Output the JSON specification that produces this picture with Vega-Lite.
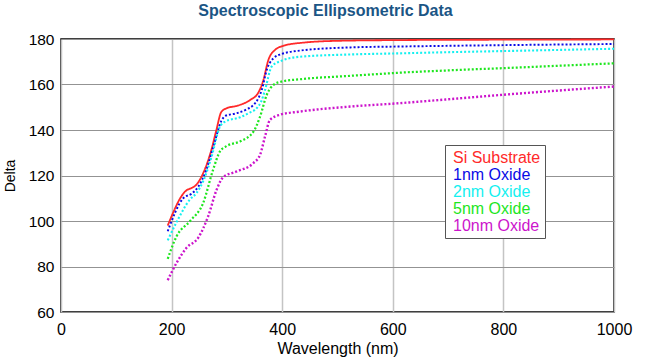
{
  "$schema": "https://vega.github.io/schema/vega-lite/v6.json",
  "width": 553,
  "height": 273,
  "autosize": "none",
  "padding": {"left": 61, "top": 39, "right": 36, "bottom": 49},
  "background": "white",
  "title": {
    "text": "Spectroscopic Ellipsometric Data",
    "font": "Liberation Sans",
    "fontSize": 16,
    "fontWeight": "bold",
    "color": "#1b5585",
    "anchor": "middle",
    "dx": -12,
    "offset": 13
  },
  "config": {
    "view": {"stroke": "black", "strokeWidth": 1.5},
    "font": "Liberation Sans",
    "axis": {
      "labelFont": "Liberation Sans",
      "titleFont": "Liberation Sans",
      "labelColor": "#000000",
      "titleColor": "#000000",
      "titleFontWeight": "normal",
      "domain": false,
      "ticks": false
    }
  },
  "data": {
    "values": [
      {"series": "Si Substrate", "wl": 193, "delta": 98},
      {"series": "Si Substrate", "wl": 227, "delta": 113.5},
      {"series": "Si Substrate", "wl": 236, "delta": 114.5},
      {"series": "Si Substrate", "wl": 245, "delta": 116},
      {"series": "Si Substrate", "wl": 257, "delta": 121},
      {"series": "Si Substrate", "wl": 272, "delta": 131.3},
      {"series": "Si Substrate", "wl": 281, "delta": 140},
      {"series": "Si Substrate", "wl": 290, "delta": 148},
      {"series": "Si Substrate", "wl": 300, "delta": 149.6},
      {"series": "Si Substrate", "wl": 318, "delta": 150.6},
      {"series": "Si Substrate", "wl": 342, "delta": 153.2},
      {"series": "Si Substrate", "wl": 357, "delta": 156.5},
      {"series": "Si Substrate", "wl": 366, "delta": 162},
      {"series": "Si Substrate", "wl": 375, "delta": 170.8},
      {"series": "Si Substrate", "wl": 387, "delta": 175.2},
      {"series": "Si Substrate", "wl": 402, "delta": 177},
      {"series": "Si Substrate", "wl": 438, "delta": 178.4},
      {"series": "Si Substrate", "wl": 500, "delta": 179.2},
      {"series": "Si Substrate", "wl": 600, "delta": 179.5},
      {"series": "Si Substrate", "wl": 800, "delta": 179.7},
      {"series": "Si Substrate", "wl": 1000, "delta": 179.8},

      {"series": "1nm Oxide", "wl": 193, "delta": 95.5},
      {"series": "1nm Oxide", "wl": 221, "delta": 110},
      {"series": "1nm Oxide", "wl": 236, "delta": 112},
      {"series": "1nm Oxide", "wl": 248, "delta": 115},
      {"series": "1nm Oxide", "wl": 262, "delta": 122},
      {"series": "1nm Oxide", "wl": 277, "delta": 134},
      {"series": "1nm Oxide", "wl": 290, "delta": 144},
      {"series": "1nm Oxide", "wl": 297, "delta": 146.2},
      {"series": "1nm Oxide", "wl": 318, "delta": 147.4},
      {"series": "1nm Oxide", "wl": 335, "delta": 149},
      {"series": "1nm Oxide", "wl": 348, "delta": 151},
      {"series": "1nm Oxide", "wl": 357, "delta": 154},
      {"series": "1nm Oxide", "wl": 363, "delta": 157.6},
      {"series": "1nm Oxide", "wl": 372, "delta": 166.4},
      {"series": "1nm Oxide", "wl": 384, "delta": 171.5},
      {"series": "1nm Oxide", "wl": 399, "delta": 173.4},
      {"series": "1nm Oxide", "wl": 432, "delta": 174.9},
      {"series": "1nm Oxide", "wl": 523, "delta": 176.3},
      {"series": "1nm Oxide", "wl": 613, "delta": 176.7},
      {"series": "1nm Oxide", "wl": 700, "delta": 177},
      {"series": "1nm Oxide", "wl": 800, "delta": 177.3},
      {"series": "1nm Oxide", "wl": 1000, "delta": 177.8},

      {"series": "2nm Oxide", "wl": 193, "delta": 91.5},
      {"series": "2nm Oxide", "wl": 210, "delta": 100},
      {"series": "2nm Oxide", "wl": 233, "delta": 109.4},
      {"series": "2nm Oxide", "wl": 245, "delta": 112.3},
      {"series": "2nm Oxide", "wl": 258, "delta": 118},
      {"series": "2nm Oxide", "wl": 272, "delta": 128},
      {"series": "2nm Oxide", "wl": 287.5, "delta": 141.5},
      {"series": "2nm Oxide", "wl": 297, "delta": 143.7},
      {"series": "2nm Oxide", "wl": 324, "delta": 145.6},
      {"series": "2nm Oxide", "wl": 340, "delta": 147.5},
      {"series": "2nm Oxide", "wl": 354, "delta": 149.6},
      {"series": "2nm Oxide", "wl": 362, "delta": 152.5},
      {"series": "2nm Oxide", "wl": 369, "delta": 157.6},
      {"series": "2nm Oxide", "wl": 381, "delta": 167.9},
      {"series": "2nm Oxide", "wl": 399, "delta": 170.5},
      {"series": "2nm Oxide", "wl": 432, "delta": 172.2},
      {"series": "2nm Oxide", "wl": 523, "delta": 173.2},
      {"series": "2nm Oxide", "wl": 613, "delta": 173.7},
      {"series": "2nm Oxide", "wl": 700, "delta": 174.2},
      {"series": "2nm Oxide", "wl": 800, "delta": 174.7},
      {"series": "2nm Oxide", "wl": 1000, "delta": 175.7},

      {"series": "5nm Oxide", "wl": 193, "delta": 83.4},
      {"series": "5nm Oxide", "wl": 209, "delta": 93.3},
      {"series": "5nm Oxide", "wl": 233, "delta": 99.9},
      {"series": "5nm Oxide", "wl": 257, "delta": 107.9},
      {"series": "5nm Oxide", "wl": 275, "delta": 122.5},
      {"series": "5nm Oxide", "wl": 287.5, "delta": 130.6},
      {"series": "5nm Oxide", "wl": 300, "delta": 133},
      {"series": "5nm Oxide", "wl": 324, "delta": 135},
      {"series": "5nm Oxide", "wl": 348, "delta": 139.3},
      {"series": "5nm Oxide", "wl": 360, "delta": 145.9},
      {"series": "5nm Oxide", "wl": 372, "delta": 155.4},
      {"series": "5nm Oxide", "wl": 384, "delta": 159.8},
      {"series": "5nm Oxide", "wl": 399, "delta": 161.3},
      {"series": "5nm Oxide", "wl": 432, "delta": 162.3},
      {"series": "5nm Oxide", "wl": 523, "delta": 163.8},
      {"series": "5nm Oxide", "wl": 613, "delta": 165.2},
      {"series": "5nm Oxide", "wl": 700, "delta": 166.2},
      {"series": "5nm Oxide", "wl": 800, "delta": 167.2},
      {"series": "5nm Oxide", "wl": 1000, "delta": 169.3},

      {"series": "10nm Oxide", "wl": 193, "delta": 74},
      {"series": "10nm Oxide", "wl": 209, "delta": 81.6},
      {"series": "10nm Oxide", "wl": 227, "delta": 88.2},
      {"series": "10nm Oxide", "wl": 248, "delta": 92.6},
      {"series": "10nm Oxide", "wl": 266, "delta": 102},
      {"series": "10nm Oxide", "wl": 281.5, "delta": 113.8},
      {"series": "10nm Oxide", "wl": 293.5, "delta": 119.3},
      {"series": "10nm Oxide", "wl": 318, "delta": 121.8},
      {"series": "10nm Oxide", "wl": 348, "delta": 125.5},
      {"series": "10nm Oxide", "wl": 360, "delta": 129.1},
      {"series": "10nm Oxide", "wl": 369, "delta": 137.2},
      {"series": "10nm Oxide", "wl": 378, "delta": 144.5},
      {"series": "10nm Oxide", "wl": 396, "delta": 146.7},
      {"series": "10nm Oxide", "wl": 432, "delta": 148.1},
      {"series": "10nm Oxide", "wl": 523, "delta": 150.3},
      {"series": "10nm Oxide", "wl": 613, "delta": 151.8},
      {"series": "10nm Oxide", "wl": 700, "delta": 153.5},
      {"series": "10nm Oxide", "wl": 800, "delta": 155.5},
      {"series": "10nm Oxide", "wl": 1000, "delta": 159.1}
    ]
  },
  "mark": {"type": "line", "interpolate": "monotone", "clip": false},
  "encoding": {
    "x": {
      "field": "wl",
      "type": "quantitative",
      "title": "Wavelength (nm)",
      "scale": {"domain": [0, 1000], "nice": false},
      "axis": {
        "values": [0, 200, 400, 600, 800, 1000],
        "format": "d",
        "labelFlush": false,
        "labelFontSize": 16,
        "titleFontSize": 16,
        "labelPadding": 9,
        "titlePadding": 3,
        "gridColor": "#c4c4c4",
        "gridWidth": 1.5
      }
    },
    "y": {
      "field": "delta",
      "type": "quantitative",
      "title": "Delta",
      "scale": {"domain": [60, 180], "nice": false},
      "axis": {
        "values": [60, 80, 100, 120, 140, 160, 180],
        "format": "d",
        "labelFontSize": 15.5,
        "titleFontSize": 14,
        "labelPadding": 7,
        "titlePadding": 11,
        "gridColor": "#939393",
        "gridWidth": 1
      }
    },
    "color": {
      "field": "series",
      "type": "nominal",
      "sort": null,
      "scale": {
        "domain": ["Si Substrate", "1nm Oxide", "2nm Oxide", "5nm Oxide", "10nm Oxide"],
        "range": ["#ff2a2a", "#0a0ae6", "#14f0f0", "#1ee61e", "#cc14cc"]
      },
      "legend": {
        "title": null,
        "orient": "none",
        "legendX": 384,
        "legendY": 106,
        "padding": 4,
        "labelOffset": -12,
        "clipHeight": 17,
        "rowPadding": 0,
        "symbolSize": 0,
        "symbolOpacity": 0,
        "symbolStrokeWidth": 0,
        "labelFont": "Liberation Sans",
        "labelFontSize": 16,
        "labelLimit": 200,
        "fillColor": "white",
        "strokeColor": "#555555",
        "encode": {
          "labels": {"update": {"fill": {"scale": "color", "field": "value"}}}
        }
      }
    },
    "strokeDash": {
      "field": "series",
      "type": "nominal",
      "scale": {
        "domain": ["Si Substrate", "1nm Oxide", "2nm Oxide", "5nm Oxide", "10nm Oxide"],
        "range": [[1, 0], [2, 2], [2, 2], [2, 2], [2, 2]]
      },
      "legend": null
    },
    "strokeWidth": {
      "field": "series",
      "type": "nominal",
      "scale": {
        "domain": ["Si Substrate", "1nm Oxide", "2nm Oxide", "5nm Oxide", "10nm Oxide"],
        "range": [1.8, 2.4, 2.4, 2.4, 2.4]
      },
      "legend": null
    }
  }
}
